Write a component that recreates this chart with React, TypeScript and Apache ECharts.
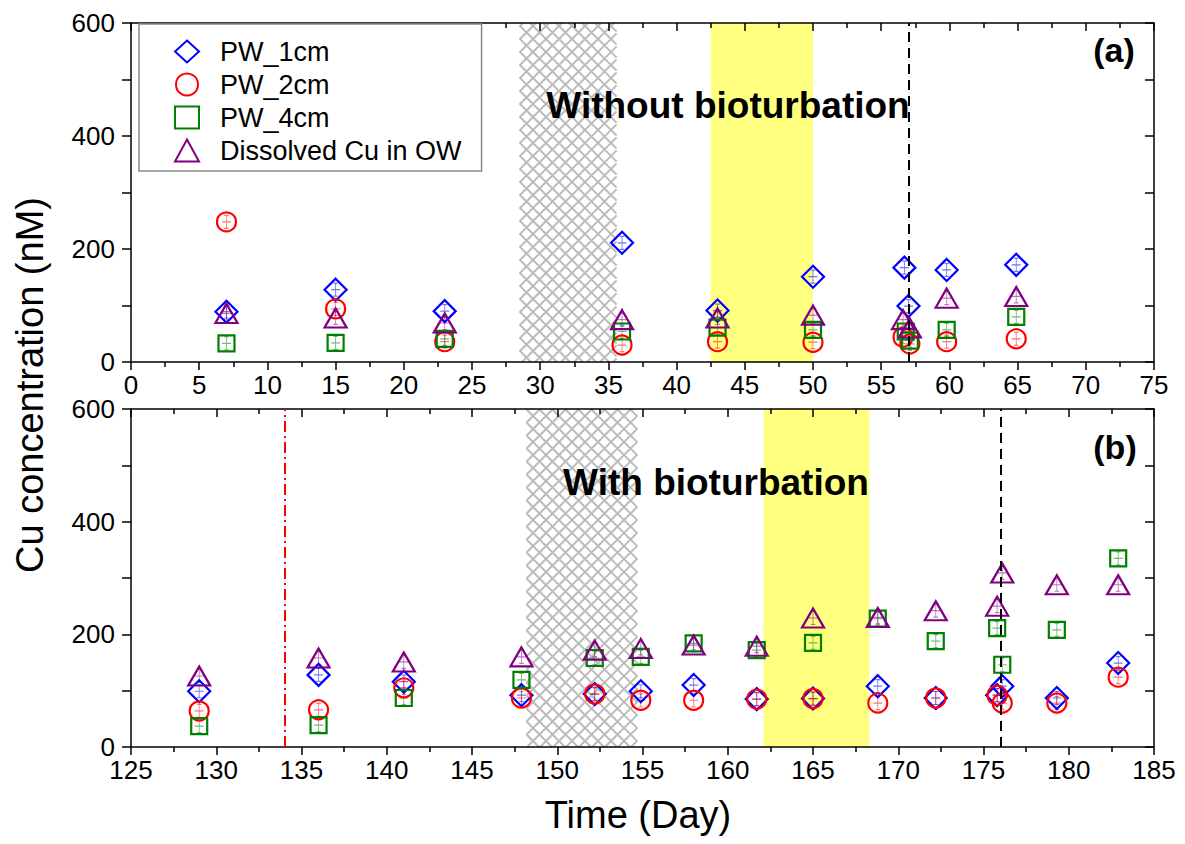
import React, { useEffect, useRef } from "react";
import * as echarts from "echarts";

// ---------- DATA ----------
const SERIES_NAMES = ["PW_1cm", "PW_2cm", "PW_4cm", "Dissolved Cu in OW"];

// Panel (a): without bioturbation
const A_PW1_DAYS = [7, 15, 23, 36, 43, 50, 56.7, 57, 59.8, 64.9];
const A_PW1_VALS = [89, 128, 90, 211, 91, 151, 167, 99, 163, 172];
const A_PW2_DAYS = [7, 15, 23, 36, 43, 50, 56.6, 57.1, 59.8, 64.9];
const A_PW2_VALS = [248, 94, 36, 30, 36, 35, 44, 32, 36, 41];
const A_PW4_DAYS = [7, 15, 23, 36, 43, 50, 56.8, 57.1, 59.8, 64.9];
const A_PW4_VALS = [33, 34, 41, 54, 61, 57, 54, 38, 57, 80];
const A_OW_DAYS = [7, 15, 23, 36, 43, 50, 56.6, 57.1, 59.8, 64.9];
const A_OW_VALS = [86, 78, 69, 75, 78, 83, 75, 60, 113, 116];

// Panel (b): with bioturbation
const B_DAYS = [129, 136, 141, 147.9, 152.2, 154.9, 158, 161.7, 165, 168.8, 172.2, 175.8, 176.1, 179.3, 182.9];
const B_PW1_VALS = [99, 128, 116, 92, 94, 99, 110, 85, 86, 108, 87, 92, 108, 87, 149];
const B_PW2_VALS = [64, 66, 105, 87, 94, 83, 83, 85, 86, 78, 87, 92, 78, 78, 124];
const B_PW4_VALS = [37, 39, 87, 119, 158, 160, 184, 172, 185, 228, 188, 211, 146, 208, 335];
const B_OW_VALS = [126, 158, 151, 160, 172, 175, 181, 179, 229, 230, 242, 250, 309, 288, 288];

// Shaded periods and event lines
const A_HATCH = [28.5, 35.6];
const A_YELLOW = [42.5, 50.0];
const A_DASH_DAY = 57;
const B_HATCH = [148.2, 154.7];
const B_YELLOW = [162.1, 168.3];
const B_DASH_DAY = 176;
const B_DASHDOT_DAY = 134;

const A_X_RANGE = [0, 75];
const B_X_RANGE = [125, 185];
const Y_RANGE = [0, 600];

// ---------- STYLE ----------
const COLORS = ["#0000ff", "#ff0000", "#008000", "#800080"];
const SYMBOLS: any[] = ["diamond", "circle", "rect", "triangle"];
const SIZES: any[] = [[22, 22], 19, 16, [22, 19]];
const FONT = "'Liberation Sans', Arial, sans-serif";

const zip = (xs: number[], ys: number[]) => xs.map((x, i) => [x, ys[i]]);

function hatchRender(params: any, api: any) {
  const x0 = api.value(0);
  const x1 = api.value(1);
  const a = api.coord([x0, Y_RANGE[1]]);
  const b = api.coord([x1, Y_RANGE[0]]);
  const L = a[0], R = b[0], T = a[1], B = b[1];
  const step = 13;
  const children: any[] = [];
  [1, -1].forEach((s) => {
    const us = [T - s * L, T - s * R, B - s * L, B - s * R];
    const umin = Math.min(...us), umax = Math.max(...us);
    for (let u = Math.floor(umin / step) * step; u <= umax; u += step) {
      let xa, xb;
      if (s === 1) {
        xa = Math.max(L, T - u);
        xb = Math.min(R, B - u);
      } else {
        xa = Math.max(L, u - B);
        xb = Math.min(R, u - T);
      }
      if (xb > xa) {
        children.push({
          type: "line",
          shape: { x1: xa, y1: s * xa + u, x2: xb, y2: s * xb + u },
          style: { stroke: "#bcbcbc", lineWidth: 2 },
        });
      }
    }
  });
  return { type: "group", children };
}

function rectRender(params: any, api: any) {
  const a = api.coord([api.value(0), Y_RANGE[1]]);
  const b = api.coord([api.value(1), Y_RANGE[0]]);
  return {
    type: "rect",
    shape: { x: a[0], y: a[1], width: b[0] - a[0], height: b[1] - a[1] },
    style: { fill: "#ffff80" },
  };
}

function makeXAxes(grid: number, range: number[]) {
  const line = { show: true, onZero: false, lineStyle: { color: "#000", width: 1.5 } };
  return [
    {
      type: "value",
      gridIndex: grid,
      min: range[0],
      max: range[1],
      interval: 5,
      position: "bottom",
      axisLine: line,
      axisTick: { show: true, inside: false, length: 8, lineStyle: { color: "#000", width: 1.5 } },
      minorTick: { show: true, splitNumber: 2, length: 5, lineStyle: { color: "#000", width: 1.5 } },
      axisLabel: { color: "#000", fontSize: 26, fontFamily: FONT, margin: 10 },
      splitLine: { show: false },
      minorSplitLine: { show: false },
    },
    {
      type: "value",
      gridIndex: grid,
      min: range[0],
      max: range[1],
      interval: 5,
      position: "top",
      axisLine: line,
      axisTick: { show: true, inside: true, length: 8, lineStyle: { color: "#000", width: 1.5 } },
      minorTick: { show: true, splitNumber: 2, length: 5, lineStyle: { color: "#000", width: 1.5 } },
      axisLabel: { show: false },
      splitLine: { show: false },
    },
  ];
}

function makeYAxes(grid: number) {
  const line = { show: true, onZero: false, lineStyle: { color: "#000", width: 1.5 } };
  return [
    {
      type: "value",
      gridIndex: grid,
      min: Y_RANGE[0],
      max: Y_RANGE[1],
      interval: 100,
      position: "left",
      axisLine: line,
      axisTick: { show: true, inside: false, length: 9, lineStyle: { color: "#000", width: 1.5 } },
      axisLabel: {
        color: "#000",
        fontSize: 26,
        fontFamily: FONT,
        margin: 16,
        formatter: (v: number) => (v % 200 === 0 ? String(v) : ""),
      },
      splitLine: { show: false },
    },
    {
      type: "value",
      gridIndex: grid,
      min: Y_RANGE[0],
      max: Y_RANGE[1],
      interval: 100,
      position: "right",
      axisLine: line,
      axisTick: { show: true, inside: true, length: 9, lineStyle: { color: "#000", width: 1.5 } },
      axisLabel: { show: false },
      splitLine: { show: false },
    },
  ];
}

function panelSeries(
  panel: number,
  data: number[][][],
  hatch: number[],
  yellow: number[],
  markLines: any[]
) {
  const xi = panel * 2;
  const yi = panel * 2;
  const out: any[] = [
    {
      type: "custom",
      xAxisIndex: xi,
      yAxisIndex: yi,
      renderItem: rectRender,
      data: [yellow],
      silent: true,
      z: 0,
    },
    {
      type: "custom",
      xAxisIndex: xi,
      yAxisIndex: yi,
      renderItem: hatchRender,
      data: [hatch],
      silent: true,
      z: 0,
    },
  ];
  data.forEach((d, i) => {
    // error-bar crosses
    out.push({
      type: "scatter",
      xAxisIndex: xi,
      yAxisIndex: yi,
      data: d,
      symbol: "path://M5 0L5 12M1 6L9 6M3 0L7 0M3 12L7 12",
      symbolSize: [9, 13],
      itemStyle: { color: "none", borderColor: COLORS[i], borderWidth: 1, opacity: 0.55 },
      silent: true,
      z: 2,
    });
    const s: any = {
      type: "scatter",
      name: SERIES_NAMES[i],
      xAxisIndex: xi,
      yAxisIndex: yi,
      data: d,
      symbol: SYMBOLS[i],
      symbolSize: SIZES[i],
      itemStyle: { color: "transparent", borderColor: COLORS[i], borderWidth: 2.2, opacity: 1 },
      z: 3,
    };
    if (i === 0) {
      s.markLine = {
        silent: true,
        symbol: "none",
        label: { show: false },
        animation: false,
        data: markLines,
      };
    }
    out.push(s);
  });
  return out;
}

export default function App() {
  const ref = useRef<HTMLDivElement>(null);
  useEffect(() => {
    if (!ref.current) return;
    const chart = echarts.init(ref.current, undefined, { renderer: "svg" });
    const aData = [
      zip(A_PW1_DAYS, A_PW1_VALS),
      zip(A_PW2_DAYS, A_PW2_VALS),
      zip(A_PW4_DAYS, A_PW4_VALS),
      zip(A_OW_DAYS, A_OW_VALS),
    ];
    const bData = [
      zip(B_DAYS, B_PW1_VALS),
      zip(B_DAYS, B_PW2_VALS),
      zip(B_DAYS, B_PW4_VALS),
      zip(B_DAYS, B_OW_VALS),
    ];
    const dashed = { type: [10, 6], color: "#000", width: 2 };
    const option: any = {
      animation: false,
      backgroundColor: "#fff",
      grid: [
        { left: 131, right: 31, top: 23, height: 339 },
        { left: 131, right: 31, top: 409, height: 338 },
      ],
      xAxis: [...makeXAxes(0, A_X_RANGE), ...makeXAxes(1, B_X_RANGE)],
      yAxis: [...makeYAxes(0), ...makeYAxes(1)],
      legend: {
        data: SERIES_NAMES.map((n) => ({ name: n })),
        orient: "vertical",
        left: 139,
        top: 24,
        padding: [14, 20, 7, 35],
        itemWidth: 24,
        itemHeight: 22,
        itemGap: 6,
        symbolKeepAspect: true,
        backgroundColor: "#fff",
        borderColor: "#888",
        borderWidth: 1.5,
        borderRadius: 0,
        selectedMode: false,
        textStyle: { color: "#000", fontSize: 27, fontFamily: FONT, padding: [0, 0, 0, 16] },
      },
      series: [
        ...panelSeries(0, aData, A_HATCH, A_YELLOW, [{ xAxis: A_DASH_DAY, lineStyle: dashed }]),
        ...panelSeries(1, bData, B_HATCH, B_YELLOW, [
          { xAxis: B_DASH_DAY, lineStyle: dashed },
          { xAxis: B_DASHDOT_DAY, lineStyle: { type: [11, 4, 2, 4], color: "#ff0000", width: 2 } },
        ]),
      ],
      graphic: [
        {
          type: "text",
          x: 728,
          y: 105,
          style: {
            text: "Without bioturbation",
            font: `bold 37px ${FONT}`,
            fill: "#000",
            align: "center",
            verticalAlign: "middle",
          },
          z: 10,
        },
        {
          type: "text",
          x: 716,
          y: 482,
          style: {
            text: "With bioturbation",
            font: `bold 37px ${FONT}`,
            fill: "#000",
            align: "center",
            verticalAlign: "middle",
          },
          z: 10,
        },
        {
          type: "text",
          x: 1114,
          y: 50,
          style: { text: "(a)", font: `bold 34px ${FONT}`, fill: "#000", align: "center", verticalAlign: "middle" },
          z: 10,
        },
        {
          type: "text",
          x: 1115,
          y: 447,
          style: { text: "(b)", font: `bold 34px ${FONT}`, fill: "#000", align: "center", verticalAlign: "middle" },
          z: 10,
        },
        {
          type: "text",
          x: 30,
          y: 385,
          rotation: Math.PI / 2,
          style: {
            text: "Cu concentration (nM)",
            font: `38px ${FONT}`,
            fill: "#000",
            align: "center",
            verticalAlign: "middle",
          },
          z: 10,
        },
        {
          type: "text",
          x: 638,
          y: 815,
          style: {
            text: "Time (Day)",
            font: `38px ${FONT}`,
            fill: "#000",
            align: "center",
            verticalAlign: "middle",
          },
          z: 10,
        },
      ],
    };
    chart.setOption(option);
    return () => chart.dispose();
  }, []);
  return (
    <div
      ref={ref}
      style={{ position: "absolute", left: 0, top: 0, width: 1185, height: 844, background: "#fff" }}
    />
  );
}
